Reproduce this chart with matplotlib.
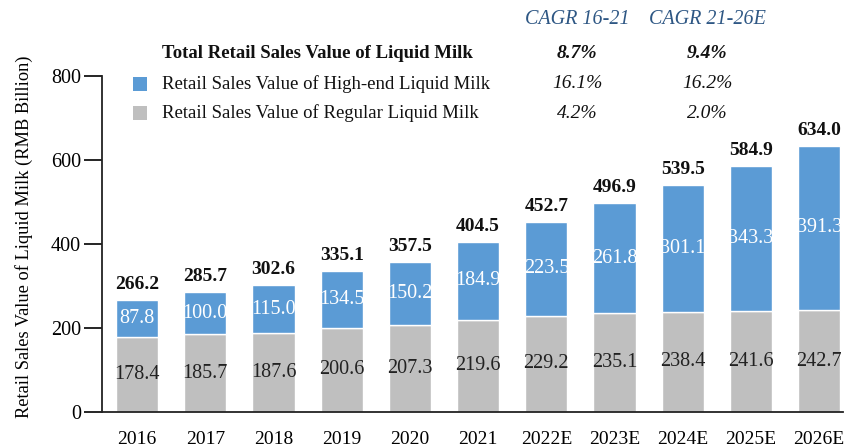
import matplotlib
matplotlib.use("Agg")
import matplotlib.pyplot as plt
from matplotlib.patches import Rectangle
import numpy as np

plt.rcParams['font.family'] = ['Liberation Serif', 'DejaVu Serif']

years = ["2016", "2017", "2018", "2019", "2020", "2021",
         "2022E", "2023E", "2024E", "2025E", "2026E"]
regular = [178.4, 185.7, 187.6, 200.6, 207.3, 219.6, 229.2, 235.1, 238.4, 241.6, 242.7]
high_end = [87.8, 100.0, 115.0, 134.5, 150.2, 184.9, 223.5, 261.8, 301.1, 343.3, 391.3]
totals = [266.2, 285.7, 302.6, 335.1, 357.5, 404.5, 452.7, 496.9, 539.5, 584.9, 634.0]

cagr_headers = ["CAGR 16-21", "CAGR 21-26E"]
legend_labels = ["Total Retail Sales Value of Liquid Milk",
                 "Retail Sales Value of High-end Liquid Milk",
                 "Retail Sales Value of Regular Liquid Milk"]
cagr_values = [["8.7%", "9.4%"], ["16.1%", "16.2%"], ["4.2%", "2.0%"]]

BLUE = "#5B9BD5"
GRAY = "#BFBFBF"
HEAD = "#2E5784"
W, H = 845, 448

fig = plt.figure(figsize=(W / 100, H / 100), dpi=100)
ax = fig.add_axes([102 / W, (H - 412) / H, (843 - 102) / W, (412 - 76) / H])

x = np.arange(len(years))
bw = 0.62
ax.bar(x, regular, width=bw, color=GRAY, edgecolor="white", linewidth=1)
ax.bar(x, high_end, bottom=regular, width=bw, color=BLUE, edgecolor="white", linewidth=1)

for i in range(len(years)):
    ax.text(x[i], regular[i] / 2, f"{regular[i]:.1f}", ha="center", va="center",
            fontsize=14.5, color="#222222")
    ax.text(x[i], regular[i] + high_end[i] / 2, f"{high_end[i]:.1f}", ha="center",
            va="center", fontsize=14.5, color="white")
    ax.annotate(f"{totals[i]:.1f}", (x[i], totals[i]), xytext=(0, 5),
                textcoords="offset points", ha="center", va="bottom",
                fontsize=14, fontweight="bold", color="#111111")

ax.set_xlim(-0.515, 10.35)
ax.set_ylim(0, 800)
ax.set_yticks([0, 200, 400, 600, 800])
ax.set_xticks(x)
ax.set_xticklabels(years)
ax.tick_params(axis="x", length=0, pad=13.5, labelsize=14)
ax.tick_params(axis="y", length=13, width=1.2, direction="out", labelsize=14.5, pad=2)
for s in ["top", "right"]:
    ax.spines[s].set_visible(False)
for s in ["left", "bottom"]:
    ax.spines[s].set_linewidth(1.3)
    ax.spines[s].set_color("#222222")
ax.set_ylabel("Retail Sales Value of Liquid Milk (RMB Billion)", fontsize=13.2)
ax.yaxis.set_label_coords(-(102 - 33) / (843 - 102), 0.52)

# Legend / CAGR table
col_x = [577 / W, 707 / W]
for j, h in enumerate(cagr_headers):
    fig.text(col_x[j], 1 - 19 / H, h, ha="center", va="center", fontsize=14.5,
             style="italic", color=HEAD)
rows_y = [54, 84, 113]
for r, lab in enumerate(legend_labels):
    yy = 1 - rows_y[r] / H
    fig.text(162 / W, yy, lab, ha="left", va="center", fontsize=13.5,
             fontweight="bold" if r == 0 else "normal", color="#111111")
    for j in range(2):
        fig.text(col_x[j], yy, cagr_values[r][j], ha="center", va="center",
                 fontsize=14, style="italic",
                 fontweight="bold" if r == 0 else "normal", color="#111111")
for r, c in [(1, BLUE), (2, GRAY)]:
    yc = rows_y[r]
    fig.patches.append(Rectangle((133 / W, 1 - (yc + 7) / H), 14 / W, 14 / H,
                                 transform=fig.transFigure, facecolor=c,
                                 edgecolor="none"))

fig.savefig("out.png", dpi=100)
